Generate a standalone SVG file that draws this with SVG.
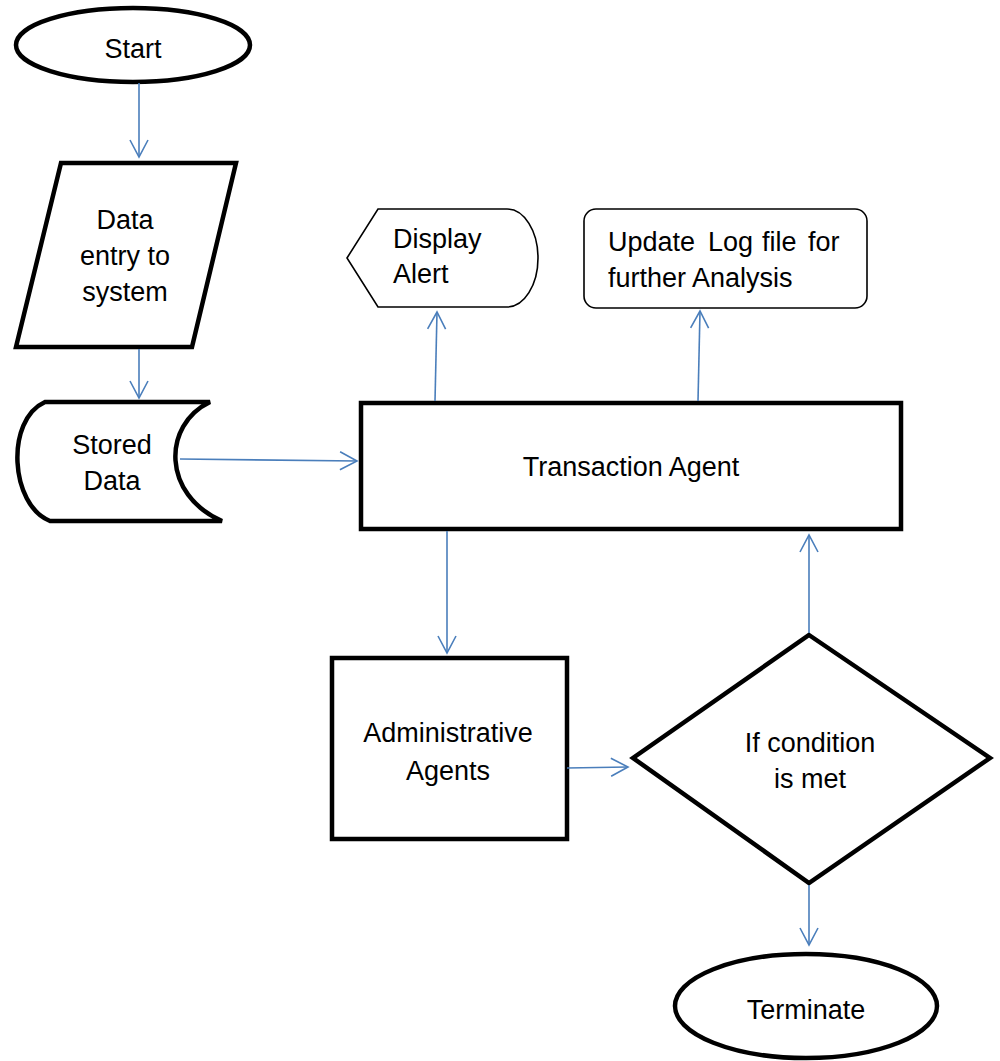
<svg xmlns="http://www.w3.org/2000/svg" width="1000" height="1061" viewBox="0 0 1000 1061">
<style>
.thick{fill:#fff;stroke:#000;stroke-width:4.5}
.thin{fill:#fff;stroke:#000;stroke-width:1.6}
.t{font-family:"Liberation Sans",Arial,sans-serif;font-size:27px;fill:#000}
.c{text-anchor:middle}
.conn{fill:none;stroke:#4a7ebb;stroke-width:1.6;marker-end:url(#arr)}
</style>
<defs>
<marker id="arr" markerUnits="userSpaceOnUse" viewBox="-19 -11 21 22" markerWidth="21" markerHeight="22" refX="0" refY="0" orient="auto">
<path d="M -17 -9 L 0 0 L -17 9" fill="none" stroke="#4a7ebb" stroke-width="1.6"/>
</marker>
</defs>
<rect width="1000" height="1061" fill="#fff"/>
<g id="start">
<ellipse class="thick" cx="133" cy="45" rx="117" ry="37"/>
<text class="t c" x="133" y="58">Start</text>
</g>
<g id="data-entry">
<polygon class="thick" points="61,163 236,163 192,347 16,347"/>
<text class="t c" x="125" y="229">Data</text>
<text class="t c" x="125" y="265">entry to</text>
<text class="t c" x="125" y="301">system</text>
</g>
<g id="stored-data">
<path class="thick" d="M 45 402 L 210 402 C 162 425 162 495 222 521 L 50 521 C 10 505 5 420 45 402 Z"/>
<text class="t c" x="112" y="454">Stored</text>
<text class="t c" x="112" y="490">Data</text>
</g>
<g id="display-alert">
<path class="thin" d="M 347 258 L 378 209 L 507 209 A 31 49 0 0 1 507 307 L 378 307 Z"/>
<text class="t" x="393" y="248">Display</text>
<text class="t" x="393" y="283">Alert</text>
</g>
<g id="update-log">
<rect class="thin" x="584" y="209" width="283" height="99" rx="12"/>
<text class="t" y="251"><tspan x="608">Update</tspan><tspan x="708">Log</tspan><tspan x="762">file</tspan><tspan x="808">for</tspan></text>
<text class="t" x="608" y="287">further Analysis</text>
</g>
<g id="transaction-agent">
<rect class="thick" x="361" y="403" width="540" height="126"/>
<text class="t c" x="631" y="476">Transaction Agent</text>
</g>
<g id="administrative-agents">
<rect class="thick" x="332" y="658" width="235" height="181"/>
<text class="t c" x="448" y="742">Administrative</text>
<text class="t c" x="448" y="780">Agents</text>
</g>
<g id="condition">
<polygon class="thick" points="809,635 990,758 809,883 633,758"/>
<text class="t c" x="810" y="752">If condition</text>
<text class="t c" x="810" y="788">is met</text>
</g>
<g id="terminate">
<ellipse class="thick" cx="806" cy="1006" rx="131" ry="52"/>
<text class="t c" x="806" y="1019">Terminate</text>
</g>
<g id="connectors">
<line class="conn" x1="139" y1="83" x2="139" y2="157"/>
<line class="conn" x1="139" y1="349" x2="139" y2="398"/>
<line class="conn" x1="180" y1="459" x2="357" y2="461"/>
<line class="conn" x1="435" y1="401" x2="437" y2="312"/>
<line class="conn" x1="698" y1="401" x2="700" y2="311"/>
<line class="conn" x1="447" y1="531" x2="447" y2="653"/>
<line class="conn" x1="567" y1="768" x2="628" y2="767"/>
<line class="conn" x1="809" y1="633" x2="809" y2="535"/>
<line class="conn" x1="809" y1="885" x2="809" y2="945"/>
</g>
</svg>
